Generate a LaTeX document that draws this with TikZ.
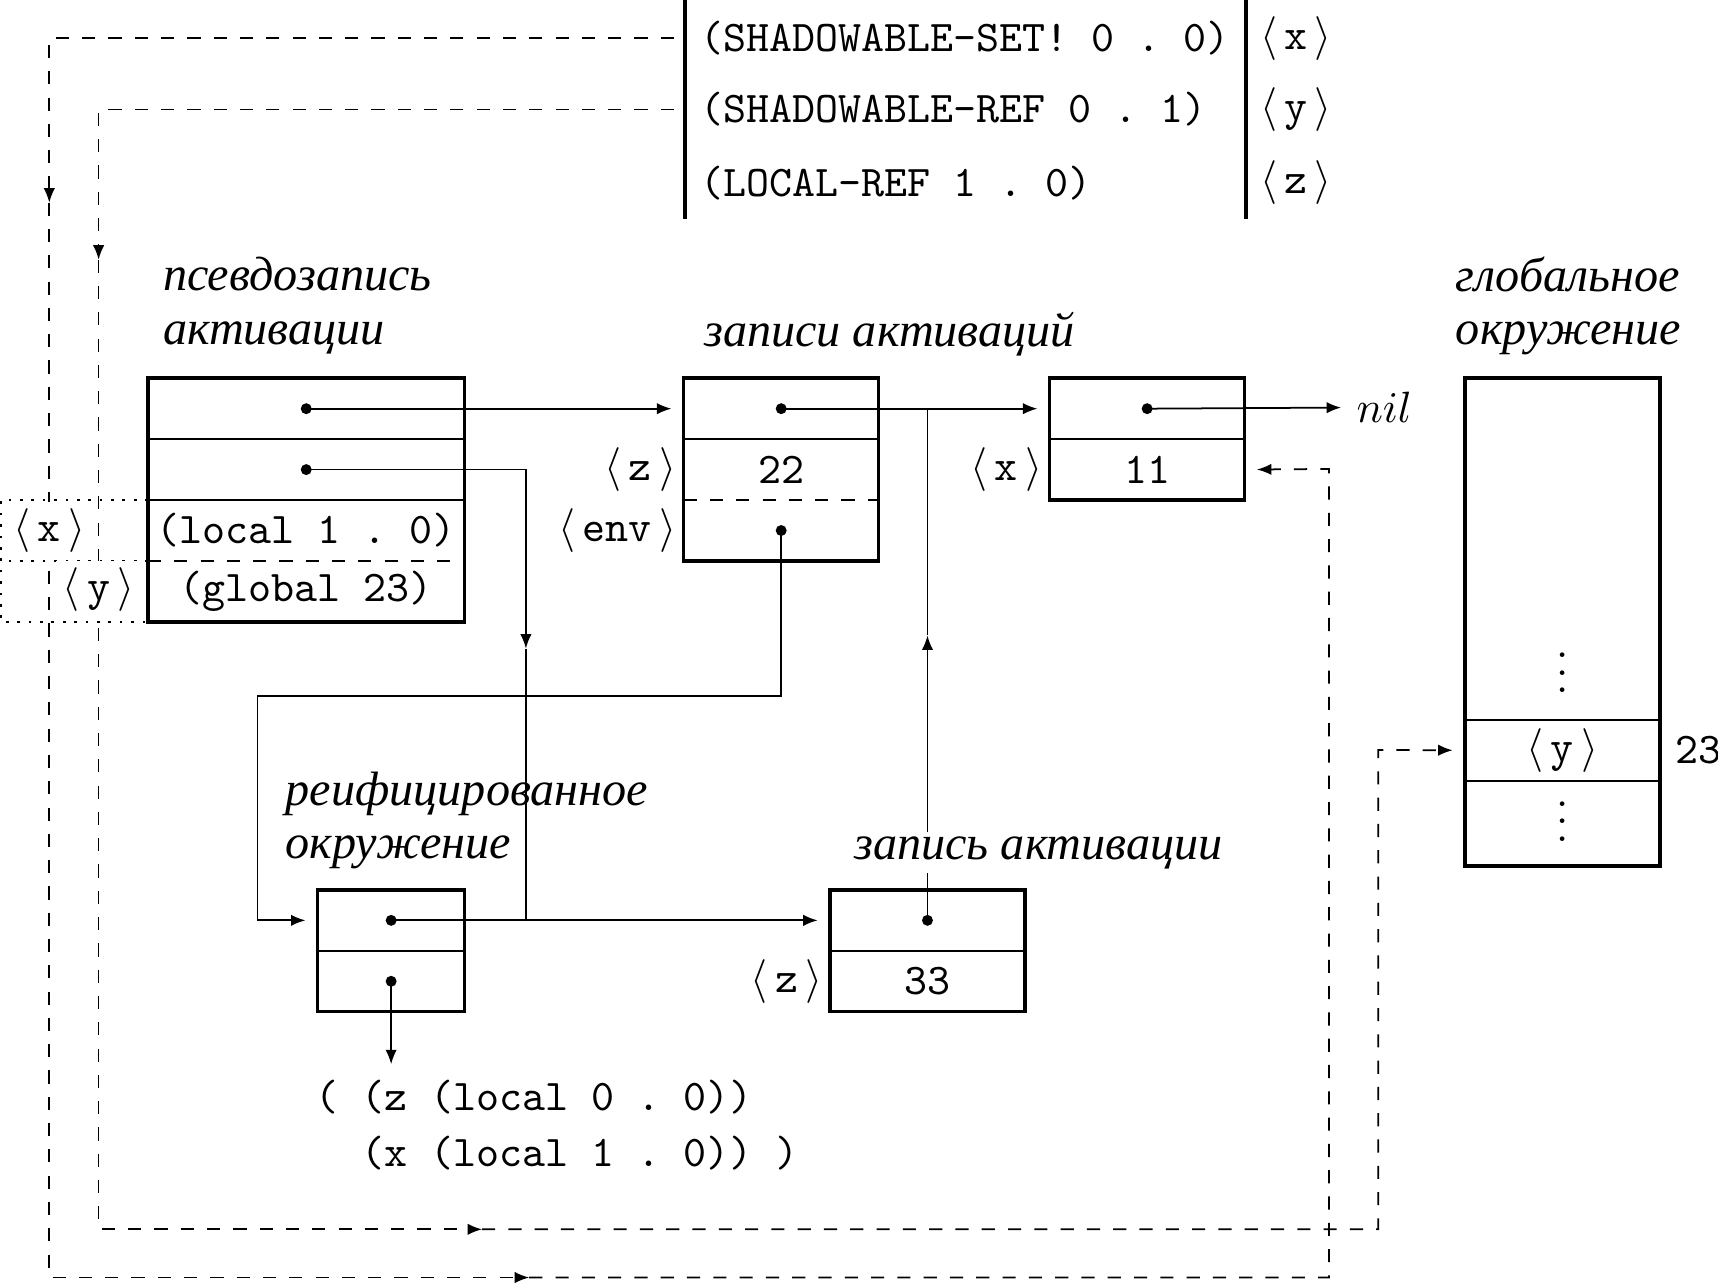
\documentclass[tikz,border=0pt]{standalone}
\usepackage{fontspec}
\newfontfamily\cyrfont{Liberation Serif}
\usetikzlibrary{positioning,arrows.meta}
\newcommand\cellref[1]{$\langle\,\texttt{#1}\,\rangle$}
\begin{document}
\begin{tikzpicture}[x=0.25pt,y=0.25pt,
    cell/.style={minimum height=13.9pt,inner sep=0pt,outer sep=0pt,font=\ttfamily},
    wide/.style={cell,minimum width=72.25pt},
    mid/.style={cell,minimum width=44.5pt},
    slim/.style={cell,minimum width=33.5pt},
    frame/.style={line width=0.8pt},
    tip/.style={-{Latex[length=3.3pt,width=2.6pt]}},
    boxtip/.style={tip,shorten >=2.8pt},
    dline/.style={dashed},
    dots/.style={dotted,line width=0.6pt},
    lbl/.style={font=\cyrfont\itshape\fontsize{11}{12.2}\selectfont,align=left,inner sep=0pt,anchor=west},
    tag/.style={inner sep=1.5pt},
    code/.style={font=\ttfamily,anchor=west}]
  \useasboundingbox (0,0) rectangle (1568,1171);
  % compiled references
  \draw[frame] (625,1171) -- (625,971) (1137,1171) -- (1137,971);
  \node[code] (s1) at (625,1136) {(SHADOWABLE-SET!~0~.~0)};
  \node[code] (s2) at (625,1071) {(SHADOWABLE-REF~0~.~1)};
  \node[code] (s3) at (625,1004) {(LOCAL-REF~1~.~0)};
  \node[tag] (tx) at (1183,1136) {\cellref{x}};
  \node[tag] (ty) at (1183,1071) {\cellref{y}};
  \node[tag] (tz) at (1183,1004) {\cellref{z}};
  % pseudo activation record
  \node[wide] (P1) at (279.5,798) {};
  \node[wide,below=0pt of P1] (P2) {};
  \node[wide,below=0pt of P2] (P3) {(local~1~.~0)};
  \node[wide,below=0pt of P3] (P4) {(global~23)};
  \node[lbl] (lP) at (148,892) {псевдозапись\\активации};
  % activation records
  \node[mid] (A1) at (713,798) {};
  \node[mid,below=0pt of A1] (A2) {22};
  \node[mid,below=0pt of A2] (A3) {};
  \node[mid] (B1) at (1047,798) {};
  \node[mid,below=0pt of B1] (B2) {11};
  \node[lbl] (lA) at (642,866) {записи активаций};
  \node[tag,left=0pt of A2] (zA) {\cellref{z}};
  \node[tag,left=0pt of A3] (eA) {\cellref{env}};
  \node[tag,left=0pt of B2] (xB) {\cellref{x}};
  \node[anchor=west] (nil) at (1224,799) {$nil$};
  % reified environment
  \node[slim] (R1) at (357,331) {};
  \node[slim,below=0pt of R1] (R2) {};
  \node[lbl] (lR) at (260,422) {реифицированное\\окружение};
  \node[mid] (C1) at (846.5,331) {};
  \node[mid,below=0pt of C1] (C2) {33};
  \node[tag,left=0pt of C2] (zC) {\cellref{z}};
  \node[code,align=left,font=\fontsize{10}{12.75}\selectfont\ttfamily] (lst) at (274,144.5)
    {(~(z~(local~0~.~0))\\\hspace*{10.5pt}(x~(local~1~.~0))~)};
  % global environment
  \node[mid,minimum height=78pt] (G1) at (1426,670) {};
  \node[mid,below=0pt of G1] (G2) {\cellref{y}};
  \node[mid,below=0pt of G2,minimum height=19.5pt] (G3) {};
  \node[inner sep=0pt,anchor=south] (vG1) at ([yshift=6pt]G1.south) {$\vdots$};
  \node[inner sep=0pt,anchor=south] (vG3) at ([yshift=5.5pt]G3.south) {$\vdots$};
  \node[right=0pt of G2,font=\ttfamily] (g23) {23};
  \node[lbl] (lG) at (1328,892) {глобальное\\окружение};

  \foreach \c in {P1,P2,A1,B1,R1,C1,G1,G2}
    \draw (\c.south west) -- (\c.south east);
  \foreach \c in {P3,A2}
    \draw[dashed] (\c.south west) -- (\c.south east);
  \draw[frame] (P1.north west) rectangle (P4.south east)
               (A1.north west) rectangle (A3.south east)
               (B1.north west) rectangle (B2.south east)
               (R1.north west) rectangle (R2.south east)
               (C1.north west) rectangle (C2.south east)
               (G1.north west) rectangle (G3.south east);
  \coordinate (rim) at (1,0);
  \draw[dots] (P3.north west) -- (rim |- P3.north) -- (rim |- P4.south) -- (P4.south west);
  \draw[dots] (P4.north west) -- (rim |- P4.north);

  % pointers
  \draw[boxtip] (P1.center) -- (A1.west);
  \coordinate (mP) at (480,579);
  \draw[tip] (P2.center) -| (mP);
  \draw (mP) -- (mP |- R1);
  \draw[boxtip] (A1.center) -- (B1.west);
  \draw[tip] (B1.center) -- (nil.west);
  \coordinate (cA) at (235,536);
  \draw[boxtip] (A3.center) |- (cA) |- (R1.west);
  \draw[boxtip] (R1.center) -- (C1.west);
  \coordinate (mC) at (846.5,591);
  \draw[tip] (C1.center) -- (mC);
  \draw (mC) -- (mC |- A1);
  \draw[tip] (R2.center) -- (R2.center |- lst.north);
  \foreach \c in {P1,P2,A1,A3,B1,R1,R2,C1}
    \fill (\c) circle (1.25pt);
  \node[lbl,fill=white,inner sep=1pt] (lC) at (775,393) {запись активации};

  % references into the records
  \coordinate (xa) at (45,986);
  \coordinate (xb) at (483,5);
  \coordinate (xc) at (1213,743);
  \coordinate (ya) at (90,934);
  \coordinate (yb) at (440,49);
  \coordinate (yc) at (1258,486.5);
  \draw[dline,tip,shorten <=2.5pt] (s1.west) -| (xa);
  \draw[dline,tip] (xa) |- (xb);
  \draw[dline,boxtip] (xb) -| (xc) -- (B2.east);
  \draw[dline,tip,shorten <=2.5pt] (s2.west) -| (ya);
  \draw[dline,tip] (ya) |- (yb);
  \draw[dline,boxtip] (yb) -| (yc) -- (G2.west);
  \node[tag,fill=white] (px) at (45,687) {\cellref{x}};
  \node[tag,fill=white] (py) at (90,633) {\cellref{y}};
\end{tikzpicture}
\end{document}
